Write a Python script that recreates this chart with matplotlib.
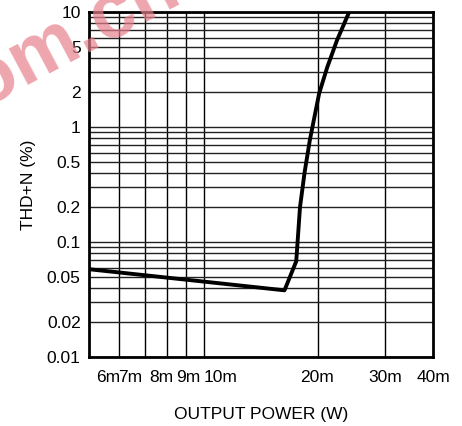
import matplotlib
matplotlib.use("Agg")
import matplotlib.pyplot as plt
from matplotlib.ticker import FixedLocator, NullFormatter, NullLocator
from matplotlib.transforms import ScaledTranslation

plt.rcParams['font.family'] = ['Liberation Sans', 'DejaVu Sans']

# data (W, %)
power = [0.005, 0.0163, 0.0175, 0.0179, 0.0184, 0.0190, 0.0201, 0.0211, 0.0224, 0.0241]
thdn = [0.058, 0.038, 0.068, 0.20, 0.40, 0.77, 1.96, 3.3, 5.7, 10.0]

x_ticks = [0.006, 0.007, 0.008, 0.009, 0.01, 0.02, 0.03, 0.04]
x_labels = ["6m", "7m", "8m", "9m", "10m", "20m", "30m", "40m"]
y_ticks = [0.01, 0.02, 0.05, 0.1, 0.2, 0.5, 1, 2, 5, 10]
y_labels = ["0.01", "0.02", "0.05", "0.1", "0.2", "0.5", "1", "2", "5", "10"]

# horizontal label shifts (pixels) as placed in the original
x_label_shift = [-11, -14, -5, 2, 17, -1, 0, 0]

fig = plt.figure(figsize=(4.62, 4.26), dpi=100)
ax = fig.add_axes([89/462, 1 - 357/426, (433-89)/462, (357-12)/426])
ax.set_xscale('log')
ax.set_yscale('log')
ax.set_xlim(0.005, 0.04)
ax.set_ylim(0.01, 10)

# grid lines
for xv in x_ticks[:-1]:
    ax.axvline(xv, color='black', lw=1.0, zorder=1)
ygrid = [m * 10**e for e in (-2, -1, 0) for m in range(1, 10)] + [10]
for yv in ygrid:
    ax.axhline(yv, color='#222222', lw=1.0, zorder=1)

ax.plot(power, thdn, color='black', lw=2.8, zorder=3, solid_joinstyle='round')

ax.xaxis.set_major_locator(FixedLocator(x_ticks))
ax.set_xticklabels(x_labels)
ax.xaxis.set_minor_locator(NullLocator())
ax.xaxis.set_minor_formatter(NullFormatter())
ax.yaxis.set_major_locator(FixedLocator(y_ticks))
ax.set_yticklabels(y_labels)
ax.yaxis.set_minor_locator(NullLocator())
ax.yaxis.set_minor_formatter(NullFormatter())
ax.tick_params(axis='both', length=0, labelsize=12.5, colors='black')
ax.tick_params(axis='x', pad=9)
ax.tick_params(axis='y', pad=6)

for lab, dx in zip(ax.get_xticklabels(), x_label_shift):
    lab.set_transform(lab.get_transform() + ScaledTranslation(dx / 100, 0, fig.dpi_scale_trans))

for s in ax.spines.values():
    s.set_linewidth(2.0)

ax.set_xlabel("OUTPUT POWER (W)", fontsize=12.5, labelpad=16)
ax.set_ylabel("THD+N (%)", fontsize=12.5, labelpad=8)

# watermark
fig.text(-18/462, 1 - 108/426, "om.cn", fontsize=56, fontweight='bold', color='#e8808c',
         alpha=0.7, rotation=28, rotation_mode='anchor', ha='left', va='baseline', zorder=10)

fig.savefig("out.png", dpi=100)
